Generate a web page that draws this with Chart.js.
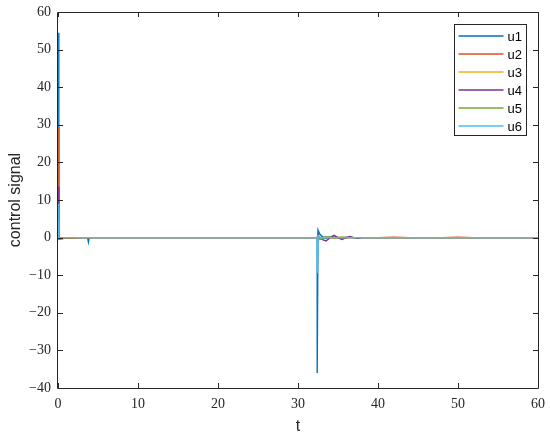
<!DOCTYPE html>
<html>
<head>
<meta charset="utf-8">
<script src="https://cdn.jsdelivr.net/npm/chart.js@4/dist/chart.umd.min.js"></script>
<style>
html,body{margin:0;padding:0;background:#fff;}
#wrap{width:550px;height:437px;position:relative;}
</style>
</head>
<body>
<div id="wrap"><canvas id="c" width="550" height="437"></canvas></div>
<script>
// time samples
const t  = [0.1, 0.1, 0.5, 1, 2, 3, 3.7, 3.8, 3.9, 5, 7, 10, 15, 20, 25, 30, 32.4, 32.4, 32.5, 32.7, 33, 33.5, 34, 34.5, 35, 35.5, 36, 36.5, 37, 37.5, 38, 39, 40, 42, 44, 46, 48, 50, 52, 54, 56, 58, 60];
const u1 = [54.5, -0.2, -0.1, 0, 0, 0, 0, -1.2, 0, 0, 0, 0, 0, 0, 0, 0, 0, -36, 2, 1, 0.3, -0.2, 0.2, 0.1, -0.1, 0, 0.1, 0, 0, 0, 0, 0, 0, 0, 0, 0, 0, 0, 0, 0, 0, 0, 0];
const u2 = [29.5, -0.5, -0.3, -0.1, -0.2, 0, 0, 0, 0, 0, 0, 0, 0, 0, 0, 0, 0, 0, 0.5, -0.5, -0.3, 0.3, 0, -0.2, 0.1, 0, -0.1, 0, 0, 0, 0, 0, 0, 0.1, 0, 0, 0, 0.1, 0, 0, 0, 0, 0];
const u3 = [5, -0.3, -0.2, 0, 0, 0, 0, 0, 0, 0, 0, 0, 0, 0, 0, 0, 0, 0, 0.3, -0.4, -0.2, 0.2, 0.1, -0.1, 0, 0.1, 0, 0, 0, 0, 0, 0, 0, 0, 0, 0, 0, 0, 0, 0, 0, 0, 0];
const u4 = [13.5, -0.3, -0.2, 0, 0, 0, 0, 0, 0, 0, 0, 0, 0, 0, 0, 0, 0, 0, 0.8, 0, -0.5, -0.9, 0, 0.6, 0, -0.5, 0, 0.3, 0, -0.2, 0, 0, 0, 0, 0, 0, 0, 0, 0, 0, 0, 0, 0];
const u5 = [4, -0.3, -0.1, 0, 0, 0, 0, 0, 0, 0, 0, 0, 0, 0, 0, 0, 0, 0, 0.4, -0.3, -0.3, 0.2, 0.2, -0.2, 0, 0.1, 0, 0, 0, 0, 0, 0, 0, 0, 0, 0, 0, 0, 0, 0, 0, 0, 0];
const u6 = [9, -0.2, -0.1, 0, 0, 0, 0, 0, 0, 0, 0, 0, 0, 0, 0, 0, 0, -9.5, 0.5, 0.2, -0.1, 0.1, 0, 0, 0, 0, 0, 0, 0, 0, 0, 0, 0, 0, 0, 0, 0, 0, 0, 0, 0, 0, 0];
const seriesNames = ['u1', 'u2', 'u3', 'u4', 'u5', 'u6'];
const seriesValues = [u1, u2, u3, u4, u5, u6];
const xTicks = [0, 10, 20, 30, 40, 50, 60];
const yTicks = [-40, -30, -20, -10, 0, 10, 20, 30, 40, 50, 60];

const colors = ['#0072BD', '#D95319', '#EDB120', '#7E2F8E', '#77AC30', '#4DBEEE'];
const axisColor = '#262626';
const tickFont = {family: '"Liberation Serif", "DejaVu Serif", serif', size: 14};
const fmt = v => (v < 0 ? '\u2212' + Math.abs(v) : String(v));

const datasets = seriesValues.map((vals, i) => ({
  label: seriesNames[i],
  data: t.map((x, k) => ({x: x, y: vals[k]})),
  borderColor: colors[i],
  backgroundColor: colors[i],
  borderWidth: 1.4,
  pointRadius: 0,
  tension: 0,
  fill: false,
  order: seriesNames.length - 1 - i
}));

const boxPlugin = {
  id: 'boxPlugin',
  afterDatasetsDraw(chart) {
    const ctx = chart.ctx, a = chart.chartArea;
    const xs = chart.scales.x, ys = chart.scales.y;
    ctx.save();
    ctx.strokeStyle = axisColor;
    ctx.lineWidth = 1;
    ctx.beginPath();
    ctx.rect(Math.round(a.left) - 0.5, Math.round(a.top) + 0.5, Math.round(a.right - a.left) + 1, Math.round(a.bottom - a.top));
    ctx.stroke();
    const L = 5;
    ctx.beginPath();
    xTicks.forEach(v => {
      const px = Math.round(xs.getPixelForValue(v)) + 0.5;
      ctx.moveTo(px, a.bottom); ctx.lineTo(px, a.bottom - L);
      ctx.moveTo(px, a.top); ctx.lineTo(px, a.top + L);
    });
    yTicks.forEach(v => {
      const py = Math.round(ys.getPixelForValue(v)) + 0.5;
      ctx.moveTo(a.left, py); ctx.lineTo(a.left + L, py);
      ctx.moveTo(a.right, py); ctx.lineTo(a.right - L, py);
    });
    ctx.stroke();
    // legend
    const bw = 72, bh = 111;
    const bx = Math.round(a.right - 12 - bw) + 0.5, by = Math.round(a.top + 12) + 0.5;
    ctx.fillStyle = '#fff';
    ctx.fillRect(bx, by, bw, bh);
    ctx.strokeStyle = axisColor;
    ctx.lineWidth = 1;
    ctx.strokeRect(bx, by, bw, bh);
    ctx.font = '13px "Liberation Sans", Arial, sans-serif';
    ctx.textBaseline = 'middle';
    ctx.textAlign = 'left';
    seriesNames.forEach((n, i) => {
      const yy = Math.round(by + 11 + i * 18);
      ctx.strokeStyle = colors[i];
      ctx.lineWidth = 1.6;
      ctx.beginPath();
      ctx.moveTo(bx + 4, yy); ctx.lineTo(bx + 49, yy);
      ctx.stroke();
      ctx.fillStyle = '#000';
      ctx.fillText(n, bx + 53, yy + 1);
    });
    ctx.restore();
  }
};

new Chart(document.getElementById('c'), {
  type: 'line',
  data: {datasets: datasets},
  options: {
    responsive: false,
    animation: false,
    layout: {padding: {left: 0, top: 12, right: 12, bottom: 0}},
    plugins: {legend: {display: false}, tooltip: {enabled: false}},
    scales: {
      x: {
        type: 'linear', min: 0, max: 60,
        afterBuildTicks: s => { s.ticks = xTicks.map(v => ({value: v})); },
        afterFit: s => { s.height = 49; s.paddingLeft = 0; s.paddingRight = 0; },
        grid: {display: false, drawTicks: false},
        border: {display: false},
        ticks: {color: axisColor, font: tickFont, padding: 8, maxRotation: 0, callback: fmt},
        title: {display: true, text: 't', color: axisColor, font: {family: '"Liberation Sans", Arial, sans-serif', size: 16}, padding: {top: 0, bottom: 1}}
      },
      y: {
        type: 'linear', min: -40, max: 60,
        afterBuildTicks: s => { s.ticks = yTicks.map(v => ({value: v})); },
        afterFit: s => { s.width = 58; s.paddingTop = 0; s.paddingBottom = 0; },
        grid: {display: false, drawTicks: false},
        border: {display: false},
        ticks: {color: axisColor, font: tickFont, padding: 7, callback: fmt},
        title: {display: true, text: 'control signal', color: axisColor, font: {family: '"Liberation Sans", Arial, sans-serif', size: 16}, padding: {top: 6, bottom: 0}}
      }
    }
  },
  plugins: [boxPlugin]
});
</script>
</body>
</html>
